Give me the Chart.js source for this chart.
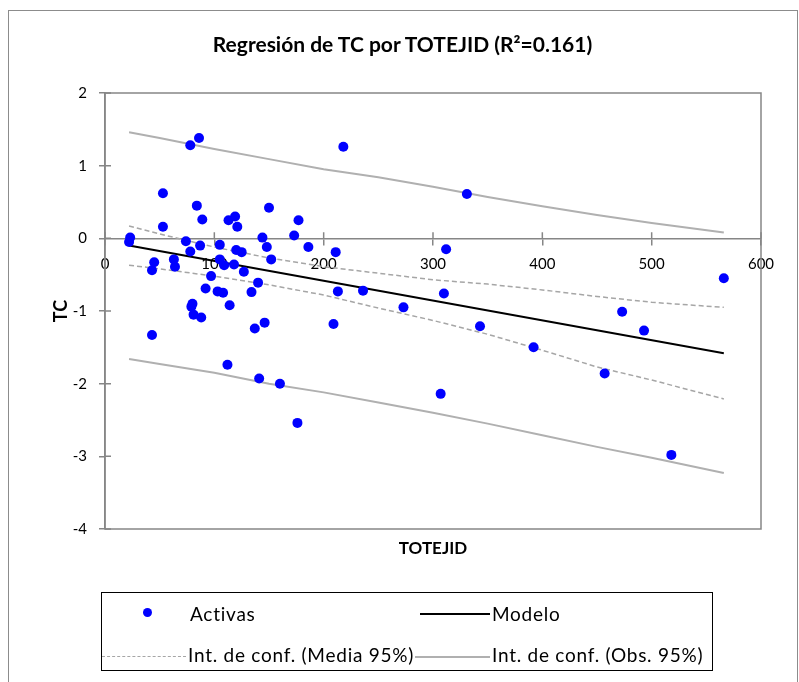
<!DOCTYPE html>
<html>
<head>
<meta charset="utf-8">
<script src="https://cdn.jsdelivr.net/npm/chart.js@4.4.1/dist/chart.umd.min.js"></script>
<style>
    body { margin: 0; background: #fff; font-family: Lato, 'Open Sans', sans-serif; }
    #wrap { position: relative; width: 799px; height: 682px; overflow: hidden; }
    #frame { position: absolute; left: 8px; top: 10px; width: 788px; height: 700px; border: 1px solid #8c8c8c; }
    #chart { position: absolute; left: 0; top: 0; }
    .title { position: absolute; left: 8px; width: 789px; top: 31px; text-align: center; font-weight: bold; font-size: 21px; color: #000; }
    .xtitle { position: absolute; left: 105px; width: 656px; top: 537px; text-align: center; font-weight: bold; font-size: 17px; }
    #legend { position: absolute; left: 101px; top: 592px; width: 610px; height: 77px; border: 1px solid #000; font-size: 19px; letter-spacing: 0.75px; }
    .item { position: absolute; white-space: nowrap; }
    .dot { position: absolute; width: 9px; height: 9px; border-radius: 50%; background: #0000ff; }
    .ln { position: absolute; height: 0; }
</style>
</head>
<body>
<div id="wrap">
    <div id="frame"></div>
    <canvas id="chart" width="799" height="682"></canvas>
    <div class="title">Regresión de TC por TOTEJID (R²=0.161)</div>
    <div class="xtitle">TOTEJID</div>
    <div id="legend">
        <span class="dot" style="left:41px; top:15px;"></span>
        <span class="item" style="left:88px; top:9px;">Activas</span>
        <span class="ln" style="left:318px; width:70px; top:20px; border-top:2px solid #000;"></span>
        <span class="item" style="left:390px; top:9px;">Modelo</span>
        <span class="ln" style="left:0px; width:84px; top:63px; border-top:1.5px dashed #a6a6a6;"></span>
        <span class="item" style="left:86px; top:50px;">Int. de conf. (Media 95%)</span>
        <span class="ln" style="left:313px; width:75px; top:63px; border-top:2px solid #b0b0b0;"></span>
        <span class="item" style="left:390px; top:50px;">Int. de conf. (Obs. 95%)</span>
    </div>
</div>
<script>
// observaciones
const activasX = [23, 22, 53, 53, 45, 43, 43, 63, 64, 78, 86, 84, 89, 74, 78, 87, 80, 79, 81, 88,
    92, 97, 105, 109, 103, 108, 105, 113, 119, 121, 114, 112, 118, 120, 125, 127, 134, 140, 137, 141,
    146, 144, 148, 150, 152, 160, 173, 177, 176, 186, 211, 209, 213, 218, 236, 273, 307, 312, 310, 331,
    343, 392, 457, 473, 493, 518, 566];
const activasY = [0.01, -0.05, 0.62, 0.16, -0.33, -0.44, -1.33, -0.29, -0.39, 1.28, 1.38, 0.45, 0.26, -0.04, -0.18, -0.10, -0.90, -0.94, -1.05, -1.09,
    -0.69, -0.52, -0.29, -0.37, -0.73, -0.75, -0.09, 0.25, 0.30, 0.16, -0.92, -1.74, -0.36, -0.16, -0.19, -0.46, -0.74, -0.61, -1.24, -1.93,
    -1.16, 0.01, -0.12, 0.42, -0.29, -2.00, 0.04, 0.25, -2.54, -0.12, -0.19, -1.18, -0.73, 1.26, -0.72, -0.95, -2.14, -0.15, -0.76, 0.61,
    -1.21, -1.50, -1.86, -1.01, -1.27, -2.98, -0.55];

// recta del modelo
const modeloX = [22, 566];
const modeloY = [-0.10, -1.58];

// bandas de confianza
const bandaX = [22, 50, 100, 150, 200, 250, 300, 350, 400, 450, 500, 566];
const mediaSup = [0.17, 0.06, -0.12, -0.27, -0.39, -0.48, -0.57, -0.63, -0.71, -0.80, -0.88, -0.95];
const mediaInf = [-0.37, -0.42, -0.52, -0.64, -0.78, -0.96, -1.13, -1.32, -1.54, -1.77, -1.95, -2.21];
const obsSup = [1.46, 1.38, 1.23, 1.09, 0.95, 0.84, 0.71, 0.57, 0.44, 0.32, 0.21, 0.08];
const obsInf = [-1.66, -1.73, -1.85, -2.00, -2.12, -2.26, -2.40, -2.55, -2.71, -2.87, -3.02, -3.23];

const xTicks = [0, 100, 200, 300, 400, 500, 600];
const yTicks = [-4, -3, -2, -1, 0, 1, 2];

const pts = (xs, ys) => xs.map((x, i) => ({ x: x, y: ys[i] }));

const axisGray = '#868686';

// marco del área de trazado y marcas de graduación cruzadas
const plotFrame = {
    id: 'plotFrame',
    afterDraw(chart) {
        const { ctx, chartArea: a, scales } = chart;
        ctx.save();
        ctx.strokeStyle = axisGray;
        ctx.lineWidth = 1.5;
        ctx.strokeRect(a.left, a.top, a.right - a.left, a.bottom - a.top);
        const y0 = scales.y.getPixelForValue(0);
        ctx.beginPath();
        xTicks.forEach(v => {
            const px = scales.x.getPixelForValue(v);
            ctx.moveTo(px, y0 - 6);
            ctx.lineTo(px, y0);
        });
        yTicks.forEach(v => {
            const py = scales.y.getPixelForValue(v);
            ctx.moveTo(a.left, py);
            ctx.lineTo(a.left + 6, py);
        });
        ctx.stroke();
        ctx.restore();
    }
};

function lineSet(label, xs, ys, color, width, dash) {
    return {
        type: 'line',
        label: label,
        data: pts(xs, ys),
        borderColor: color,
        borderWidth: width,
        borderDash: dash || [],
        pointRadius: 0,
        fill: false,
        tension: 0
    };
}

new Chart(document.getElementById('chart'), {
    type: 'scatter',
    data: {
        datasets: [
            {
                label: 'Activas',
                data: pts(activasX, activasY),
                backgroundColor: '#0000ff',
                borderWidth: 0,
                pointRadius: 5
            },
            lineSet('Modelo', modeloX, modeloY, '#000000', 2),
            lineSet('Int. de conf. (Media 95%)', bandaX, mediaSup, '#a6a6a6', 1.5, [5, 3]),
            lineSet('Int. de conf. (Media 95%)', bandaX, mediaInf, '#a6a6a6', 1.5, [5, 3]),
            lineSet('Int. de conf. (Obs. 95%)', bandaX, obsSup, '#b0b0b0', 2),
            lineSet('Int. de conf. (Obs. 95%)', bandaX, obsInf, '#b0b0b0', 2)
        ]
    },
    options: {
        responsive: false,
        animation: false,
        layout: { padding: { left: 46, top: 93, right: 38, bottom: 153 } },
        plugins: {
            legend: { display: false },
            title: { display: false },
            tooltip: { enabled: false }
        },
        scales: {
            x: {
                type: 'linear',
                position: { y: 0 },
                min: 0,
                max: 600,
                ticks: { stepSize: 100, padding: 11, color: '#000', font: { family: 'Lato', size: 15 } },
                grid: { drawOnChartArea: false, tickLength: 6, color: axisGray, lineWidth: 1.5 },
                border: { color: axisGray, width: 1.5 }
            },
            y: {
                min: -4,
                max: 2,
                afterFit(scale) { scale.width = 59; },
                ticks: { stepSize: 1, padding: 12, color: '#000', font: { family: 'Lato', size: 15 } },
                grid: { drawOnChartArea: false, tickLength: 6, color: axisGray, lineWidth: 1.5 },
                border: { color: axisGray, width: 1.5 },
                title: { display: true, text: 'TC', color: '#000', font: { family: 'Lato', size: 18, weight: 'bold' } }
            }
        }
    },
    plugins: [plotFrame]
});
</script>
</body>
</html>
